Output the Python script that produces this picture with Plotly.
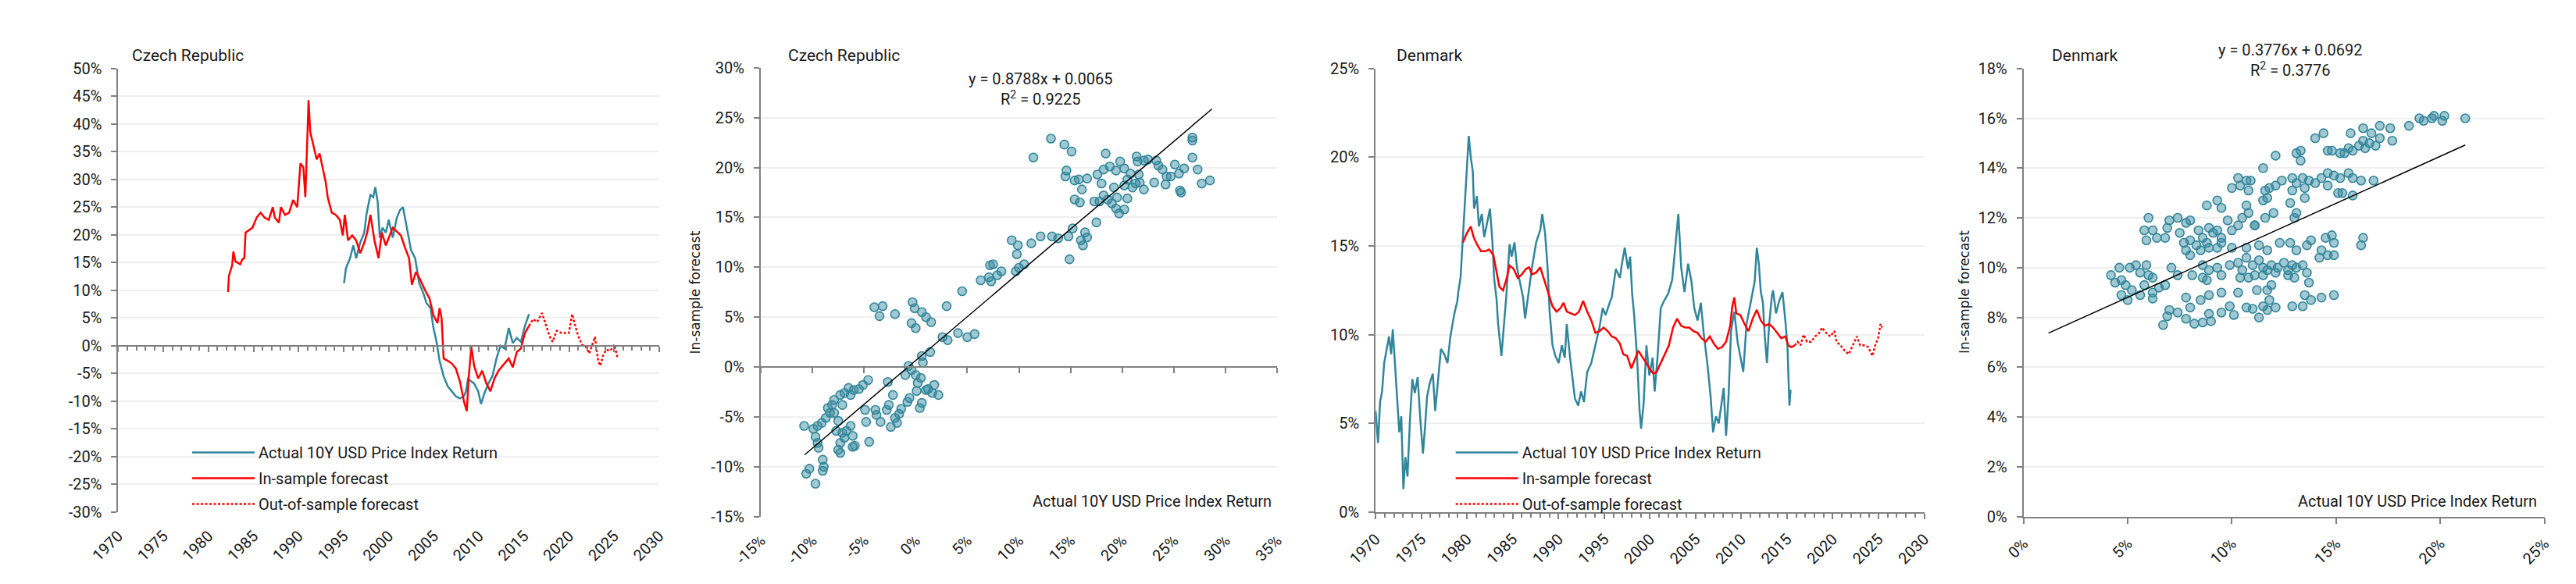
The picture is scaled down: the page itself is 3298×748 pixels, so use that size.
import plotly.graph_objects as go

W, H = 3298, 748

# ---------------- DATA ----------------
years_ticks = [1970, 1975, 1980, 1985, 1990, 1995, 2000, 2005, 2010, 2015, 2020, 2025, 2030]

# Czech Republic - actual 10Y USD price index return (%)
cz_act_year = [1995.04, 1995.26, 1995.71, 1996.07, 1996.39, 1996.84, 1997.29, 1997.52, 1997.74, 1997.97,
               1998.28, 1998.51, 1998.78, 1999.01, 1999.32, 1999.68, 2000.00, 2000.45, 2000.90, 2001.26,
               2001.58, 2001.80, 2002.12, 2002.48, 2002.93, 2003.38, 2003.83, 2004.19, 2004.64, 2004.96,
               2005.28, 2005.64, 2006.09, 2006.54, 2006.99, 2007.44, 2007.89, 2008.34, 2008.57, 2008.79,
               2009.47, 2009.92, 2010.24, 2010.60, 2011.05, 2011.50, 2011.95, 2012.40, 2012.85, 2013.31,
               2013.76, 2014.21, 2014.66, 2015.11, 2015.56]
cz_act = [11.3, 14.0, 15.8, 18.1, 15.8, 18.6, 20.4, 23.6, 25.4, 27.2,
          26.8, 28.6, 25.9, 19.5, 21.3, 20.4, 22.7, 19.5, 23.1, 24.5,
          25.0, 23.1, 20.8, 17.2, 15.8, 11.3, 9.5, 7.7, 6.8, 3.2,
          0.9, -2.7, -5.5, -7.3, -8.2, -9.1, -9.5, -9.1, -8.2, -6.0,
          -6.8, -8.2, -10.5, -8.6, -6.8, -5.5, -2.3, 0.0, -0.5, 3.2,
          0.5, 1.4, 0.7, 3.6, 5.7]

# Czech Republic - in-sample forecast (%)
cz_in_year = [1982.18, 1982.27, 1982.63, 1982.77, 1982.99, 1983.53, 1983.76, 1983.98, 1984.12, 1984.44,
              1984.89, 1985.34, 1985.79, 1986.24, 1986.69, 1987.14, 1987.37, 1987.82, 1988.04, 1988.50,
              1988.95, 1989.40, 1989.85, 1990.21, 1990.53, 1990.75, 1990.93, 1991.11, 1991.29, 1991.65,
              1992.01, 1992.33, 1992.65, 1993.01, 1993.23, 1993.68, 1994.13, 1994.58, 1994.90, 1995.13,
              1995.49, 1995.94, 1996.39, 1996.84, 1997.29, 1997.61, 1997.97, 1998.42, 1998.87, 1999.23,
              1999.68, 2000.00, 2000.45, 2000.90, 2001.35, 2001.80, 2002.25, 2002.57, 2003.02, 2003.47,
              2004.06, 2004.51, 2004.96, 2005.41, 2005.64, 2005.86, 2006.09, 2006.54, 2006.99, 2007.44,
              2007.89, 2008.34, 2008.66, 2008.88, 2009.16, 2009.47, 2009.92, 2010.37, 2010.83, 2011.28,
              2011.73, 2012.18, 2012.63, 2013.31, 2013.76, 2014.21, 2014.66, 2015.11, 2015.56]
cz_in = [9.7, 12.6, 14.5, 17.0, 15.2, 14.7, 15.6, 15.8, 20.4, 20.8,
         21.3, 23.1, 24.0, 23.1, 22.7, 25.0, 23.1, 22.2, 25.0, 23.6,
         24.0, 26.3, 25.0, 32.9, 32.2, 26.8, 35.9, 44.3, 38.6, 35.9,
         33.6, 34.7, 32.2, 29.5, 26.8, 24.0, 23.6, 22.7, 19.9, 23.6,
         19.0, 19.9, 19.0, 16.7, 18.6, 20.4, 23.6, 19.0, 15.8, 20.4,
         18.1, 19.5, 21.3, 20.6, 19.9, 17.7, 15.8, 11.0, 13.3, 12.0,
         9.9, 8.6, 5.5, 4.1, 6.8, 5.0, -2.3, -2.7, -3.2, -4.1,
         -6.4, -10.0, -11.8, -5.5, -0.2, -3.6, -5.9, -4.5, -6.8, -8.2,
         -5.9, -4.5, -3.6, -2.3, -3.9, -1.1, -0.5, 2.3, 3.6]

# Czech Republic - out-of-sample forecast (%)
cz_out_year = [2015.56, 2016.01, 2016.46, 2017.00, 2017.37, 2017.82, 2018.18, 2018.63, 2019.17, 2019.62,
               2019.98, 2020.34, 2020.61, 2020.97, 2021.43, 2021.88, 2022.24, 2022.55, 2022.87, 2023.23,
               2023.46, 2023.77, 2024.13, 2024.58, 2025.03, 2025.40]
cz_out = [3.6, 4.8, 4.3, 5.9, 4.1, 1.8, 0.7, 2.7, 2.3, 2.3,
          2.3, 5.7, 4.1, 2.0, 0.2, -0.2, -1.4, 0.0, 1.6, -2.7,
          -3.6, -1.8, -0.7, -0.9, 0.2, -2.3]

# Denmark - actual (%)
dk_act_year = [1970.00, 1970.27, 1970.49, 1970.71, 1970.94, 1971.25, 1971.47, 1971.70, 1971.88, 1972.14,
               1972.37, 1972.59, 1972.81, 1973.04, 1973.26, 1973.49, 1973.75, 1974.02, 1974.29, 1974.60,
               1974.91, 1975.18, 1975.41, 1975.63, 1975.94, 1976.26, 1976.52, 1976.84, 1977.15, 1977.51,
               1977.86, 1978.18, 1978.62, 1978.94, 1979.07, 1979.29, 1979.52, 1979.83, 1980.19, 1980.41,
               1980.63, 1980.77, 1981.08, 1981.30, 1981.62, 1981.88, 1982.20, 1982.51, 1982.78, 1982.96,
               1983.23, 1983.40, 1983.76, 1984.07, 1984.30, 1984.65, 1984.88, 1985.19, 1985.46, 1985.77,
               1986.13, 1986.35, 1986.67, 1987.11, 1987.56, 1988.01, 1988.23, 1988.54, 1988.81, 1989.03,
               1989.35, 1989.66, 1990.02, 1990.37, 1990.69, 1990.91, 1991.27, 1991.58, 1991.80, 1992.16,
               1992.47, 1992.79, 1993.14, 1993.59, 1994.04, 1994.48, 1994.84, 1995.15, 1995.60, 1995.83,
               1996.27, 1996.72, 1996.94, 1997.25, 1997.61, 1997.84, 1998.06, 1998.28, 1998.60, 1998.86,
               1999.04, 1999.31, 1999.62, 1999.94, 2000.29, 2000.52, 2000.83, 2001.19, 2001.54, 2001.99,
               2002.44, 2002.75, 2003.11, 2003.42, 2003.78, 2004.18, 2004.54, 2004.85, 2005.21, 2005.57,
               2005.88, 2006.32, 2006.64, 2006.91, 2007.22, 2007.53, 2007.80, 2008.07, 2008.33, 2008.60,
               2008.87, 2009.23, 2009.59, 2009.90, 2010.21, 2010.57, 2011.02, 2011.46, 2011.69, 2011.91,
               2012.13, 2012.36, 2012.58, 2012.80, 2013.03, 2013.34, 2013.47, 2013.79, 2014.14, 2014.50,
               2014.81, 2015.04, 2015.26, 2015.39]
dk_act = [5.7, 3.9, 6.2, 6.8, 8.4, 9.2, 9.9, 8.9, 10.3, 8.2,
          6.2, 4.5, 5.4, 1.3, 3.1, 2.0, 5.1, 7.5, 6.7, 7.6,
          5.1, 3.3, 4.8, 6.5, 7.3, 7.8, 5.7, 7.4, 9.2, 8.9,
          8.4, 9.9, 11.2, 11.9, 12.5, 13.2, 15.2, 18.1, 21.2, 20.0,
          19.2, 17.1, 17.8, 16.1, 16.8, 15.5, 16.4, 17.1, 15.2, 13.2,
          12.0, 10.6, 8.8, 10.8, 12.2, 15.1, 14.4, 15.2, 13.8, 13.0,
          12.1, 10.9, 12.2, 13.8, 15.2, 15.9, 16.8, 15.7, 13.8, 11.3,
          9.4, 8.8, 8.4, 9.4, 8.7, 10.6, 8.7, 7.5, 6.4, 6.0,
          6.8, 6.2, 7.9, 8.4, 9.4, 10.4, 11.5, 11.1, 11.8, 12.1,
          13.7, 13.2, 14.0, 14.9, 13.7, 14.4, 12.3, 11.1, 8.7, 5.8,
          4.7, 6.1, 9.4, 7.7, 8.7, 6.8, 8.7, 11.5, 11.9, 12.3,
          13.1, 14.9, 16.8, 13.8, 12.4, 14.0, 13.0, 11.5, 10.8, 11.8,
          10.1, 8.2, 6.5, 4.5, 5.4, 5.0, 6.1, 7.0, 4.3, 6.5,
          10.2, 11.3, 9.6, 8.8, 7.9, 10.6, 11.9, 13.0, 14.9, 14.0,
          12.4, 11.8, 9.8, 8.4, 10.5, 12.2, 12.5, 11.2, 11.9, 12.4,
          10.8, 9.4, 6.0, 6.9]

# Denmark - in-sample forecast (%)
dk_in_year = [1979.56, 1979.96, 1980.41, 1980.72, 1981.08, 1981.53, 1981.97, 1982.42, 1982.87, 1983.23,
              1983.54, 1983.94, 1984.30, 1984.65, 1985.10, 1985.55, 1986.00, 1986.44, 1986.80, 1987.11,
              1987.56, 1988.01, 1988.45, 1988.90, 1989.35, 1989.79, 1990.24, 1990.55, 1990.91, 1991.36,
              1991.80, 1992.25, 1992.70, 1993.14, 1993.59, 1994.04, 1994.48, 1994.93, 1995.38, 1995.83,
              1996.27, 1996.72, 1997.08, 1997.52, 1997.97, 1998.28, 1998.73, 1999.09, 1999.49, 1999.94,
              2000.38, 2000.74, 2001.19, 2001.63, 2002.08, 2002.53, 2002.97, 2003.42, 2003.87, 2004.31,
              2004.76, 2005.21, 2005.65, 2006.10, 2006.55, 2006.99, 2007.44, 2007.89, 2008.33, 2008.78,
              2009.01, 2009.23, 2009.45, 2009.90, 2010.35, 2010.79, 2011.24, 2011.69, 2012.13, 2012.58,
              2013.03, 2013.47, 2013.92, 2014.37, 2014.81, 2015.13, 2015.48, 2015.84]
dk_in = [15.2, 15.7, 16.1, 15.5, 15.1, 14.7, 14.7, 14.8, 14.5, 13.5,
         12.7, 12.5, 13.1, 13.9, 13.7, 13.2, 13.4, 13.7, 13.8, 13.4,
         13.5, 13.8, 13.1, 12.3, 11.6, 11.3, 11.5, 11.8, 11.3, 11.2,
         11.1, 11.3, 11.9, 11.3, 10.8, 10.1, 10.2, 10.4, 10.2, 9.9,
         9.8, 9.5, 8.9, 8.8, 8.1, 8.5, 9.1, 8.8, 8.5, 8.1,
         7.8, 7.9, 8.4, 8.9, 9.4, 10.4, 10.9, 10.5, 10.4, 10.4,
         10.2, 10.1, 9.8, 9.6, 9.9, 9.5, 9.2, 9.3, 9.6, 10.5,
         11.6, 12.1, 11.2, 11.1, 10.6, 10.2, 10.9, 11.4, 10.8, 10.5,
         10.6, 10.4, 10.1, 9.8, 9.9, 9.4, 9.3, 9.4]

# Denmark - out-of-sample forecast (%)
dk_out_year = [2015.84, 2016.15, 2016.47, 2016.82, 2017.18, 2017.63, 2018.08, 2018.52, 2018.83, 2019.28,
               2019.73, 2020.18, 2020.40, 2020.85, 2021.29, 2021.74, 2022.19, 2022.63, 2022.99, 2023.44,
               2023.88, 2024.33, 2024.64, 2024.96, 2025.22, 2025.40]
dk_out = [9.4, 9.6, 9.4, 10.0, 9.6, 9.6, 9.9, 10.1, 10.4, 10.1,
          9.9, 10.2, 9.6, 9.4, 9.1, 8.9, 9.4, 9.9, 9.4, 9.4,
          9.3, 8.8, 9.4, 9.8, 10.6, 10.4]

# Czech scatter: actual (x) vs in-sample forecast (y), %
cz_sc_x = [13.1, 14.4, 15.1, 11.4, 18.4, 26.8, 26.8, 26.8, 27.3, 27.7, 28.5, 25.6, 25.7,
           14.6, 14.5, 15.4, 15.8, 16.1, 16.6, 17.6, 18.2, 18.8, 19.4, 19.8, 20.2, 20.8, 21.4, 21.5, 22.1,
           22.5, 23.3, 23.5, 23.9, 24.3, 25.1, 25.5, 26.0, 23.1, 24.2, 24.7,
           18.0, 19.2, 20.2, 21.0, 21.3, 21.7, 22.1, 21.6, 20.5,
           15.4, 15.9, 17.3, 17.8, 18.2, 18.6, 19.0, 19.4, 19.7, 20.2, 20.5, 19.5,
           17.5, 15.2, 16.4, 16.6, 16.0, 16.2, 14.8, 13.8, 13.2, 12.1, 11.2, 9.3, 9.9, 9.8, 14.9,
           10.5, 10.0, 9.7, 8.3, 7.9, 7.2, 7.5, 7.1, 6.3, 7.3, 4.5,
           -4.0, -3.2, -3.5, -2.0, -0.3, -0.1, 0.6, 1.0, 1.5, -0.4, 0.0, 3.0, 2.6, 3.1, 4.1, 5.0, 5.7,
           1.4, 0.6, 0.7, -0.7, -0.4, -1.0, 0.0, 0.5, 0.2, 1.8, 1.2, 0.1, 1.6, 2.2, 1.0, -0.6, -0.8, 0.6, 0.4,
           -2.2, -2.7, -2.6, -2.8, -1.4, -1.6, -2.0, -1.8, -2.4, -3.4, -3.8, -3.9, -4.8, -4.9, -4.5,
           -4.6, -5.1, -5.5, -6.0, -6.5, -6.3, -6.9, -7.3, -7.1, -7.9, -8.1, -8.5, -8.3, -8.7, -7.9,
           -7.5, -7.7, -7.1, -6.7, -6.3, -6.1, -6.9, -7.3, -7.5, -7.3, -5.9, -6.1,
           -9.1, -9.5, -9.9, -10.8, -9.7, -9.5, -9.4, -9.0, -8.9, -9.0, -10.3, -10.6, -9.7]
cz_sc_y = [22.9, 22.3, 21.6, 21.0, 21.4, 23.0, 22.7, 21.0, 19.8, 18.4, 18.7, 17.7, 17.5,
           19.7, 19.1, 18.7, 18.8, 17.8, 18.9, 19.3, 19.8, 20.1, 19.7, 20.6, 19.9, 19.4, 21.1, 20.6, 20.7,
           20.8, 20.7, 20.2, 19.8, 19.1, 20.3, 19.4, 19.9, 18.5, 18.3, 19.1,
           18.4, 18.0, 18.2, 18.0, 18.4, 18.5, 17.8, 19.3, 18.8,
           16.8, 16.5, 16.6, 16.6, 17.2, 16.8, 16.4, 15.9, 15.4, 15.8, 16.9, 17.0,
           14.5, 13.9, 13.5, 13.0, 12.7, 12.2, 13.1, 12.9, 13.1, 13.1, 12.4, 12.7, 12.2, 11.3, 10.8,
           10.3, 9.95, 9.6, 9.6, 9.2, 10.2, 10.3, 9.0, 8.7, 8.6, 7.6,
           6.0, 6.1, 5.1, 5.3, 6.5, 5.9, 5.5, 5.0, 4.5, 4.4, 3.9, 6.1, 3.0, 2.7, 3.4, 3.0, 3.3,
           1.5, 1.1, 0.45, 0.1, -0.3, -0.8, -0.8, -1.1, -1.6, -1.8, -2.2, -2.4, -2.6, -2.8, -2.3, -3.1, -3.5, -3.6, -4.1,
           -2.8, -1.5, -3.8, -4.3, -4.2, -4.7, -5.1, -5.6, -6.0, -5.5, -4.8, -4.3, -5.5, -4.3, -7.5,
           -1.3, -1.8, -2.2, -2.3, -2.1, -2.8, -2.6, -2.8, -3.8, -3.3, -3.8, -4.1, -4.6, -5.1, -4.6,
           -5.4, -6.4, -6.6, -6.4, -5.9, -6.9, -7.1, -7.6, -8.3, -8.6, -7.9, -8.0,
           -5.6, -5.9, -6.2, -5.9, -7.0, -7.6, -8.1, -9.3, -10.0, -10.4, -10.2, -10.7, -11.7]

# Denmark scatter: actual (x) vs in-sample forecast (y), %
dk_sc_x = [21.2, 20.2, 19.7, 19.6, 20.1, 19.2, 19.0, 18.5, 17.6, 17.1, 17.7, 17.1, 16.7, 16.3, 15.7, 16.3,
           16.6, 16.9, 16.4, 16.1, 15.8, 15.4, 15.2, 15.6, 14.6, 14.8, 14.4, 14.0, 13.3, 13.1, 13.3, 12.1, 11.5,
           10.3, 10.7, 10.9, 10.0, 10.4, 10.8, 11.6, 11.8, 12.1, 12.4, 12.9, 13.1, 13.4, 13.7, 14.0, 14.3,
           14.6, 14.9, 15.2, 15.6, 15.8, 16.2, 16.8, 14.6, 15.1, 15.3, 15.8, 13.5, 13.5, 12.9, 11.7, 11.5,
           8.8, 9.3, 9.5, 10.7, 10.8, 10.5, 11.6, 12.0, 12.8, 13.1, 13.0, 11.1, 11.1, 9.8,
           6.0, 5.8, 6.2, 5.9, 6.4, 6.8, 7.0, 7.4, 6.9, 7.5, 8.0, 7.8, 8.4, 8.6, 8.9, 9.1, 9.3, 9.5, 10.0, 10.3,
           8.0, 7.7, 8.3, 8.8, 9.5, 7.8, 8.0, 8.5, 8.9, 9.3,
           10.0, 10.7, 11.3, 11.7, 12.3, 12.8, 13.1, 13.6, 13.8, 14.3, 14.5, 14.8, 14.9, 14.6, 14.9, 14.2, 16.2, 16.3,
           8.6, 8.9, 9.3, 9.5, 9.9, 10.3, 10.5, 10.7, 11.0, 11.3, 11.5, 11.7, 11.9, 12.2, 12.5, 12.7, 12.9, 13.1, 13.4,
           10.4, 10.8, 11.1, 11.5, 12.1, 12.7, 13.0, 13.6, 13.7, 11.9, 8.8, 8.6, 8.1, 7.1, 7.4,
           4.2, 4.6, 4.4, 4.7, 4.9, 5.1, 5.4, 5.6, 5.9, 6.0, 6.2, 5.8, 5.2, 6.2, 6.5, 6.8, 4.7, 5.0, 5.6,
           7.8, 8.5, 8.9, 9.5, 10.3, 11.2, 11.7, 13.5, 14.3, 14.9, 13.8,
           6.2, 6.7, 6.9, 7.0, 7.4, 7.8, 8.0, 8.2, 8.6, 8.9, 9.0, 9.5, 9.9, 10.1, 10.7, 11.0, 11.3, 11.5,
           11.7, 11.8, 12.1, 12.9, 13.4]
dk_sc_y = [16.0, 16.1, 16.1, 16.0, 15.9, 15.9, 16.0, 15.7, 15.6, 15.7, 15.1, 15.2, 15.4, 15.6, 15.4, 15.1,
           15.0, 14.9, 14.8, 14.9, 14.7, 14.6, 14.6, 14.8, 14.7, 14.7, 15.4, 15.2, 14.7, 14.6, 14.3, 14.5, 14.0,
           13.6, 13.5, 13.5, 13.2, 13.3, 13.1, 13.1, 13.2, 13.3, 13.5, 13.6, 13.4, 13.6, 13.5, 13.4, 13.6,
           13.8, 13.7, 13.6, 13.8, 13.6, 13.5, 13.5, 13.3, 13.0, 13.0, 12.9, 13.2, 12.8, 13.1, 12.8, 12.7,
           12.5, 12.7, 12.4, 12.5, 12.2, 12.0, 12.0, 12.2, 12.6, 12.2, 12.0, 11.7, 11.7, 11.9,
           12.0, 11.5, 11.5, 11.1, 11.2, 11.2, 11.9, 12.0, 11.6, 11.4, 11.9, 11.8, 11.5, 11.2, 11.6, 11.4, 11.5, 11.2, 11.5, 11.7,
           11.1, 11.0, 10.9, 11.0, 11.0, 10.7, 10.5, 10.7, 10.8, 10.8,
           10.8, 10.8, 10.9, 10.7, 11.0, 11.0, 10.7, 10.9, 11.1, 10.7, 11.2, 11.3, 11.0, 10.5, 10.5, 10.4, 10.9, 11.2,
           10.1, 9.9, 10.0, 9.7, 10.1, 10.2, 9.9, 10.4, 10.1, 10.3, 10.0, 9.9, 10.1, 10.0, 10.2, 9.9, 10.1, 10.0, 10.1,
           9.6, 9.6, 9.7, 9.7, 9.8, 9.7, 9.6, 9.8, 9.4, 9.3, 9.5, 9.6, 9.7, 10.0, 9.7,
           9.7, 10.0, 9.4, 9.5, 9.3, 10.0, 10.1, 9.8, 10.1, 9.7, 9.6, 9.3, 9.1, 9.0, 9.2, 9.3, 8.9, 8.7, 8.9,
           8.8, 8.7, 8.9, 9.0, 9.0, 9.1, 9.1, 8.9, 8.8, 8.9, 8.7,
           8.76, 7.7, 8.05, 8.3, 8.2, 7.95, 8.4, 7.75, 7.8, 8.15, 7.85, 8.2, 8.45, 8.1, 8.4, 8.35, 8.0, 8.45,
           8.3, 8.7, 8.4, 8.45, 8.45]

# Linear trend lines (from the chart's equations, in fractions) and their x-extent (%)
cz_slope, cz_icpt, cz_r2 = 0.8788, 0.0065, 0.9225
dk_slope, dk_icpt, dk_r2 = 0.3776, 0.0692, 0.3776
cz_fit_x = [-10.75, 28.7]
dk_fit_x = [1.2, 21.2]

legend_names = ["Actual 10Y USD Price Index Return", "In-sample forecast", "Out-of-sample forecast"]
x_title = "Actual 10Y USD Price Index Return"
y_title = "In-sample forecast"

# ---------------- STYLE ----------------
TEAL = "#31869B"
RED = "#FF0000"
AXIS = "#808080"
GRID = "#EFEFEF"
TXT = "#1a1a1a"
FONT = "Roboto"
FS = 20


def pct_labels(vals):
    return [("-" if v < 0 else "") + f"{abs(v):g}%" for v in vals]


def px2x(p):
    return p / W


def px2y(p):
    return 1 - p / H


# plot-area pixel boxes (left, right, top, bottom)
B1 = (107, 810, 70, 657)
B2 = (942, 1613, 69, 663)
B3 = (1741, 2454, 70, 657)
B4 = (2583, 3260, 70, 663)


def dom(b):
    return [px2x(b[0]), px2x(b[1])], [px2y(b[3]), px2y(b[2])]


fig = go.Figure()

DOT = "3px,2.5px"
MK = dict(size=11, color="rgba(49,134,155,0.45)", line=dict(color=TEAL, width=1.6))

# --- panel 1: Czech time series ---
fig.add_trace(go.Scatter(x=cz_act_year, y=cz_act, mode="lines", name=legend_names[0],
                         line=dict(color=TEAL, width=2.5), xaxis="x", yaxis="y", legend="legend",
                         legendgroup="a1"))
fig.add_trace(go.Scatter(x=cz_in_year, y=cz_in, mode="lines", name=legend_names[1],
                         line=dict(color=RED, width=2.5), xaxis="x", yaxis="y", legend="legend",
                         legendgroup="b1"))
fig.add_trace(go.Scatter(x=cz_out_year, y=cz_out, mode="lines", name=legend_names[2],
                         line=dict(color=RED, width=2.5, dash=DOT), xaxis="x", yaxis="y", legend="legend",
                         legendgroup="c1"))

# --- panel 2: Czech scatter ---
fig.add_trace(go.Scatter(x=cz_sc_x, y=cz_sc_y, mode="markers", showlegend=False, marker=MK,
                         xaxis="x2", yaxis="y2"))
fig.add_trace(go.Scatter(x=cz_fit_x, y=[(cz_slope * v / 100 + cz_icpt) * 100 for v in cz_fit_x],
                         mode="lines", showlegend=False, line=dict(color="black", width=1.5),
                         xaxis="x2", yaxis="y2"))

# --- panel 3: Denmark time series ---
fig.add_trace(go.Scatter(x=dk_act_year, y=dk_act, mode="lines", name=legend_names[0],
                         line=dict(color=TEAL, width=2.5), xaxis="x3", yaxis="y3", legend="legend2",
                         legendgroup="a2"))
fig.add_trace(go.Scatter(x=dk_in_year, y=dk_in, mode="lines", name=legend_names[1],
                         line=dict(color=RED, width=2.5), xaxis="x3", yaxis="y3", legend="legend2",
                         legendgroup="b2"))
fig.add_trace(go.Scatter(x=dk_out_year, y=dk_out, mode="lines", name=legend_names[2],
                         line=dict(color=RED, width=2.5, dash=DOT), xaxis="x3", yaxis="y3", legend="legend2",
                         legendgroup="c2"))

# --- panel 4: Denmark scatter ---
fig.add_trace(go.Scatter(x=dk_sc_x, y=dk_sc_y, mode="markers", showlegend=False, marker=MK,
                         xaxis="x4", yaxis="y4"))
fig.add_trace(go.Scatter(x=dk_fit_x, y=[(dk_slope * v / 100 + dk_icpt) * 100 for v in dk_fit_x],
                         mode="lines", showlegend=False, line=dict(color="black", width=1.5),
                         xaxis="x4", yaxis="y4"))

# invisible traces to instantiate the zero-line axes
fig.add_trace(go.Scatter(x=[None], y=[None], xaxis="x5", yaxis="y", showlegend=False, hoverinfo="skip"))
fig.add_trace(go.Scatter(x=[None], y=[None], xaxis="x6", yaxis="y2", showlegend=False, hoverinfo="skip"))

tickfont = dict(family=FONT, size=FS, color=TXT)


def yaxis_cfg(b, rng, step, anchor):
    xd, yd = dom(b)
    vals = []
    v = rng[0]
    while v <= rng[1] + 1e-9:
        vals.append(round(v, 6))
        v += step
    return dict(domain=yd, range=rng, anchor=anchor, tickvals=vals, ticktext=pct_labels(vals),
                showline=True, linecolor=AXIS, linewidth=2, ticks="outside", ticklen=7, tickwidth=2,
                tickcolor=AXIS, showgrid=True, gridcolor=GRID, gridwidth=2, zeroline=False,
                tickfont=tickfont, ticklabelstandoff=8, fixedrange=True)


def xaxis_cfg(b, rng, vals, texts, anchor, line):
    xd, yd = dom(b)
    d = dict(domain=xd, range=rng, anchor=anchor, tickvals=vals, ticktext=texts, tickangle=-45,
             showgrid=False, zeroline=False, tickfont=tickfont, fixedrange=True)
    if line:
        d.update(showline=True, linecolor=AXIS, linewidth=2, ticks="outside", ticklen=7, tickwidth=2,
                 tickcolor=AXIS, ticklabelstandoff=6)
    else:
        d.update(showline=False, ticks="", ticklabelstandoff=14)
    return d


sc1_vals = list(range(-15, 36, 5))
sc2_vals = list(range(0, 26, 5))

ax1 = xaxis_cfg(B1, [1970, 2030], years_ticks, [str(y) for y in years_ticks], "y", False)
ax2 = xaxis_cfg(B2, [-15, 35], sc1_vals, pct_labels(sc1_vals), "y2", False)
ax3 = xaxis_cfg(B3, [1970, 2030], years_ticks, [str(y) for y in years_ticks], "y3", True)
ax3["minor"] = dict(dtick=1, ticks="outside", ticklen=5, tickwidth=1.5, tickcolor=AXIS, showgrid=False)
ax4 = xaxis_cfg(B4, [0, 25], sc2_vals, pct_labels(sc2_vals), "y4", True)

ay1 = yaxis_cfg(B1, [-30, 50], 5, "x")
ay2 = yaxis_cfg(B2, [-15, 30], 5, "x2")
ay3 = yaxis_cfg(B3, [0, 25], 5, "x3")
ay4 = yaxis_cfg(B4, [0, 18], 2, "x4")

# zero-line axes with ticks for panels 1 and 2
_, yd1 = dom(B1)
pos1 = yd1[0] + (0 - (-30)) / 80 * (yd1[1] - yd1[0])
_, yd2 = dom(B2)
pos2 = yd2[0] + (0 - (-15)) / 45 * (yd2[1] - yd2[0])
ax5 = dict(overlaying="x", anchor="free", position=pos1, range=[1970, 2030], domain=dom(B1)[0],
           tickvals=years_ticks, showticklabels=False, showline=True, linecolor=AXIS, linewidth=2,
           ticks="outside", ticklen=7, tickwidth=2, tickcolor=AXIS, showgrid=False, zeroline=False,
           minor=dict(dtick=1, ticks="outside", ticklen=5, tickwidth=1.5, tickcolor=AXIS, showgrid=False),
           fixedrange=True)
ax6 = dict(overlaying="x2", anchor="free", position=pos2, range=[-15, 35], domain=dom(B2)[0],
           tickvals=sc1_vals, showticklabels=False, showline=True, linecolor=AXIS, linewidth=2,
           ticks="outside", ticklen=7, tickwidth=2, tickcolor=AXIS, showgrid=False, zeroline=False,
           fixedrange=True)

legend_common = dict(font=dict(family=FONT, size=FS, color=TXT), bgcolor="rgba(0,0,0,0)",
                     xanchor="left", yanchor="top", tracegroupgap=4, itemwidth=80,
                     orientation="v")

fig.update_layout(
    width=W, height=H, autosize=False,
    margin=dict(l=0, r=0, t=0, b=0, pad=0),
    paper_bgcolor="white", plot_bgcolor="white",
    font=dict(family=FONT, size=FS, color=TXT),
    xaxis=ax1, yaxis=ay1, xaxis2=ax2, yaxis2=ay2, xaxis3=ax3, yaxis3=ay3, xaxis4=ax4, yaxis4=ay4,
    xaxis5=ax5, xaxis6=ax6,
    legend=dict(x=px2x(198), y=px2y(558), **legend_common),
    legend2=dict(x=px2x(1840), y=px2y(558), **legend_common),
)

ann = []
title_font = dict(family=FONT, size=21, color=TXT)
ann.append(dict(text="Czech Republic", x=px2x(123), y=px2y(53), xref="paper", yref="paper",
                xanchor="left", yanchor="middle", showarrow=False, font=title_font))
ann.append(dict(text="Czech Republic", x=px2x(975), y=px2y(53), xref="paper", yref="paper",
                xanchor="left", yanchor="middle", showarrow=False, font=title_font))
ann.append(dict(text="Denmark", x=px2x(1766), y=px2y(53), xref="paper", yref="paper",
                xanchor="left", yanchor="middle", showarrow=False, font=title_font))
ann.append(dict(text="Denmark", x=px2x(2618), y=px2y(53), xref="paper", yref="paper",
                xanchor="left", yanchor="middle", showarrow=False, font=title_font))

eq_font = dict(family=FONT, size=20, color=TXT)
ann.append(dict(text=f"y = {cz_slope:.4f}x + {cz_icpt:.4f}<br>R<sup>2</sup> = {cz_r2:.4f}",
                x=px2x(1306), y=px2y(97), xref="paper", yref="paper", xanchor="center", yanchor="middle",
                align="center", showarrow=False, font=eq_font))
ann.append(dict(text=f"y = {dk_slope:.4f}x + {dk_icpt:.4f}<br>R<sup>2</sup> = {dk_r2:.4f}",
                x=px2x(2930), y=px2y(59), xref="paper", yref="paper", xanchor="center", yanchor="middle",
                align="center", showarrow=False, font=eq_font))

ann.append(dict(text=x_title, x=px2x(1608), y=px2y(643), xref="paper", yref="paper",
                xanchor="right", yanchor="middle", showarrow=False, font=eq_font))
ann.append(dict(text=x_title, x=px2x(3252), y=px2y(643), xref="paper", yref="paper",
                xanchor="right", yanchor="middle", showarrow=False, font=eq_font))

yt_font = dict(family="DejaVu Sans", size=17, color=TXT)
ann.append(dict(text=y_title, x=px2x(857), y=px2y(366), xref="paper", yref="paper", textangle=-90,
                xanchor="center", yanchor="middle", showarrow=False, font=yt_font))
ann.append(dict(text=y_title, x=px2x(2507), y=px2y(366), xref="paper", yref="paper", textangle=-90,
                xanchor="center", yanchor="middle", showarrow=False, font=yt_font))

fig.update_layout(annotations=ann)

fig.write_html("out.html")
